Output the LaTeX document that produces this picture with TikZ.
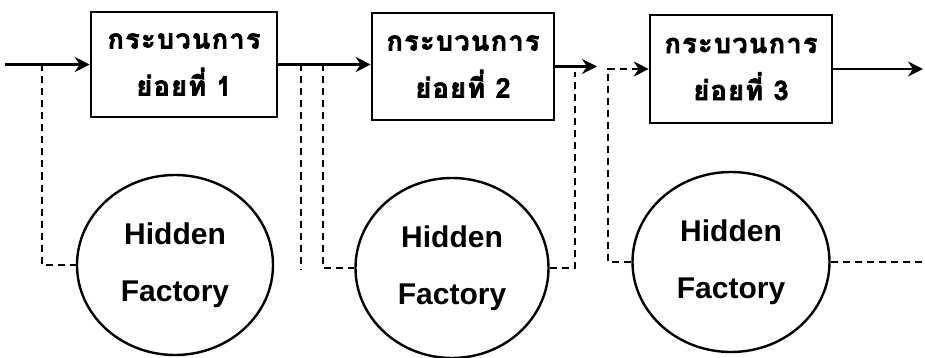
\documentclass[tikz,border=0pt]{standalone}
\usepackage{fontspec}
\setmainfont{Liberation Sans}
\newfontfamily\thaifont[Script=Thai,LetterSpace=5,BoldFeatures={FakeBold=2.5}]{Loma}
\usetikzlibrary{shapes.geometric,arrows.meta}

\tikzset{
  stepbox/.style={draw, line width=2.6pt, rectangle, align=center,
    font=\thaifont\bfseries\fontsize{27}{47}\selectfont},
  hidden/.style={draw, line width=2.4pt, ellipse, inner sep=0pt, align=center,
    font=\bfseries\fontsize{30}{57}\selectfont},
  tip/.style={-{Stealth[length=15pt,width=15pt,inset=5pt]}},
  flow/.style={line width=2.6pt, tip},
  loop/.style={line width=2.4pt, dash pattern=on 7pt off 5pt},
  loopflow/.style={loop, tip}
}

\begin{document}
\begin{tikzpicture}[x=1pt, y=-1pt]
  \useasboundingbox (0,0) rectangle (925,358);

  % sub-process boxes
  \node[stepbox, minimum width=186pt, minimum height=105pt] (b1) at (184,64.5)
    {กระบวนการ\\ย่อยที่ 1};
  \node[stepbox, minimum width=182pt, minimum height=107pt] (b2) at (463,66.5)
    {กระบวนการ\\ย่อยที่ 2};
  \node[stepbox, minimum width=182pt, minimum height=108pt] (b3) at (741,69)
    {กระบวนการ\\ย่อยที่ 3};

  % hidden factories
  \node[hidden, minimum width=196pt, minimum height=180pt] (e1) at (175,265)
    {Hidden\\Factory};
  \node[hidden, minimum width=193pt, minimum height=180pt] (e2) at (452,268)
    {Hidden\\Factory};
  \node[hidden, minimum width=197pt, minimum height=180pt] (e3) at (731,262)
    {Hidden\\Factory};

  % free ends and branch points
  \coordinate (in) at (5,64.5);
  \coordinate (t1) at (42,64.5);
  \coordinate (t2) at (301,64.5);
  \coordinate (t2end) at (301,270);
  \coordinate (t3) at (323,64.5);
  \coordinate (out2) at (597,66.5);
  \coordinate (t4) at (575,72);
  \coordinate (t5) at (608,69);
  \coordinate (out3) at (923,69);
  \coordinate (tail) at (925,262);

  % main flow
  \draw[flow] (in) -- (in -| b1.west);
  \draw[flow] (b1.east) -- (b1.east -| b2.west);
  \draw[flow] (b2.east) -- (out2);
  \draw[flow] (b3.east) -- (out3);

  % losses through the hidden factories
  \draw[loop] (t1) |- (e1.west);
  \draw[loop] (t2) -- (t2end);
  \draw[loop] (t3) |- (e2.west);
  \draw[loop] (e2.east) -| (t4);
  \draw[loopflow] (e3.west) -| (t5) -- (t5 -| b3.west);
  \draw[loop] (e3.east) -- (tail);
\end{tikzpicture}
\end{document}
